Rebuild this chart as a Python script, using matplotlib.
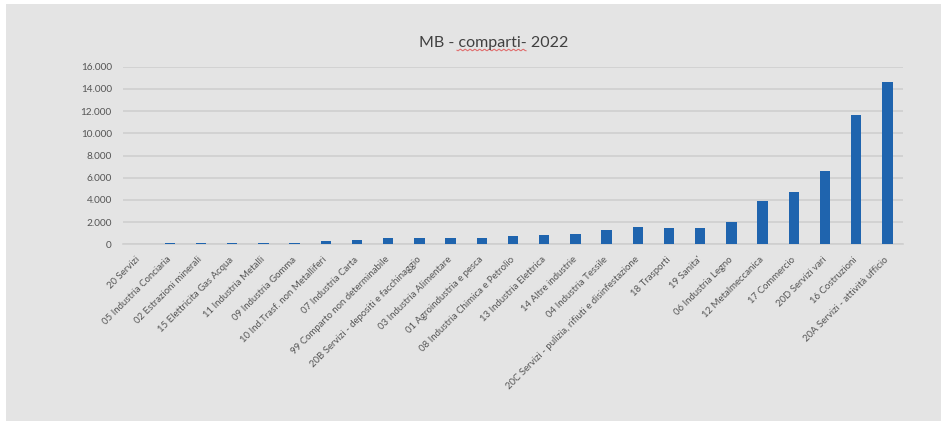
import numpy as np
from matplotlib import pyplot as plt
from matplotlib.patches import Rectangle
from matplotlib.lines import Line2D
from matplotlib.ticker import FuncFormatter

# comparti, ordinati per valore
comparti = [
    "20 Servizi",
    "05 Industria Conciaria",
    "02 Estrazioni minerali",
    "15 Elettricita Gas Acqua",
    "11 Industria Metalli",
    "09 Industria Gomma",
    "10 Ind.Trasf. non Metalliferi",
    "07 Industria Carta",
    "99 Comparto non determinabile",
    "20B Servizi - depositi e facchinaggio",
    "03 Industria Alimentare",
    "01 Agroindustria e pesca",
    "08 Industria Chimica e Petrolio",
    "13 Industria Elettrica",
    "14 Altre industrie",
    "04 Industria Tessile",
    "20C Servizi - pulizia, rifiuti e disinfestazione",
    "18 Trasporti",
    "19 Sanita'",
    "06 Industria Legno",
    "12 Metalmeccanica",
    "17 Commercio",
    "20D Servizi vari",
    "16 Costruzioni",
    "20A Servizi - attività ufficio",
]
valori = [
    10, 110, 110, 120, 120, 130, 330, 360, 550, 560, 600, 610, 760, 840,
    930, 1300, 1520, 1480, 1480, 2000, 3870, 4720, 6600, 11650, 14600,
]
y_ticks = [0, 2000, 4000, 6000, 8000, 10000, 12000, 14000, 16000]

GRIGIO = "#e4e4e4"
BLU = "#1f64ae"
TESTO = "#555555"

plt.rcParams["font.family"] = ["Lato", "DejaVu Sans"]

fig = plt.figure(figsize=(9.41, 4.21), dpi=100)
fig.patch.set_facecolor("white")
fig.patches.append(Rectangle((6 / 941, 0), 1, 1 - 4 / 421, transform=fig.transFigure,
                             facecolor=GRIGIO, edgecolor="none", zorder=-10))

ax = fig.add_axes([123 / 941, 1 - 244.3 / 421, 780 / 941, 177.6 / 421])
ax.set_facecolor(GRIGIO)

x = np.arange(len(comparti))
ax.bar(x, valori, width=0.33, color=BLU, zorder=3)

ax.set_xlim(-0.5, len(comparti) - 0.5)
ax.set_ylim(0, 16000)
ax.set_yticks(y_ticks)
ax.yaxis.set_major_formatter(FuncFormatter(lambda v, p: f"{int(v):,}".replace(",", ".")))
ax.grid(axis="y", color="#cfcfcf", linewidth=1.2, zorder=0)

for side in ["top", "right", "left"]:
    ax.spines[side].set_visible(False)
ax.spines["bottom"].set_color("#cfcfcf")
ax.spines["bottom"].set_linewidth(1.2)

ax.set_xticks(x)
ax.set_xticklabels(comparti, rotation=45, ha="right", va="center",
                   rotation_mode="anchor", fontsize=6.9, color=TESTO)
ax.tick_params(axis="x", length=0, pad=10)
ax.tick_params(axis="y", length=0, pad=8, labelsize=7.2, labelcolor=TESTO)

fig.text(494 / 941, 1 - 42.5 / 421, "MB - comparti- 2022", ha="center", va="center",
         fontsize=11.5, color="#404040")

# sottolineatura ondulata sotto "comparti"
xs = np.linspace(457, 526, 60)
ys = 421 - 50 + 0.8 * np.sin(xs * 1.3)
fig.add_artist(Line2D(xs / 941, ys / 421, transform=fig.transFigure,
                      color="#e07070", linewidth=0.8))

fig.savefig("out.png", dpi=100, facecolor=fig.get_facecolor())
